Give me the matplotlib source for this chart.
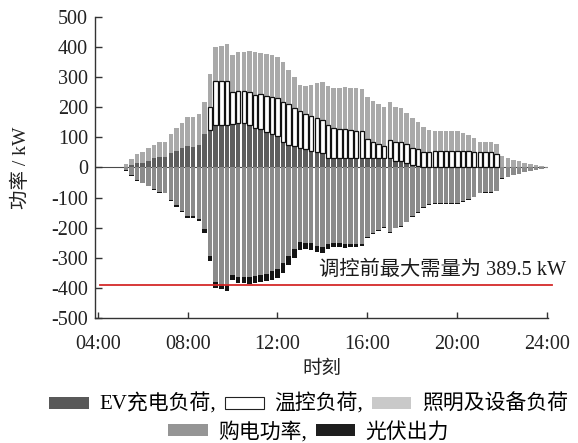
import numpy as np
import matplotlib
matplotlib.use("Agg")
import matplotlib.pyplot as plt
from matplotlib.patches import Patch

plt.rcParams["font.family"] = ["Liberation Serif", "Noto Sans CJK SC"]
plt.rcParams["axes.unicode_minus"] = False

# 15-minute slots from 04:00 to 24:00
slot_hours = 4 + 0.25 * np.arange(81)

# EV charging load (kW)
ev_load = [0, 0, 0, 0, 0, 3, 8, 14, 15, 21,
           30, 34, 34, 48, 56, 63, 70, 68, 75, 110,
           125, 140, 140, 140, 145, 147, 147, 142, 130, 127,
           118, 110, 103, 86, 76, 72, 66, 60, 56, 53,
           48, 33, 30, 30, 30, 30, 30, 30, 30, 30,
           30, 30, 30, 23, 21, 14, 8, 5, 0, 0,
           0, 0, 0, 0, 0, 0, 0, 0, 0, 0,
           0, 0, 0, 0, 0, 0, 0, 0, 0, 0, 0]

# Thermostatically controlled load (kW)
tcl_load = [0, 0, 0, 0, 0, 0, 0, 0, 0, 0,
            0, 0, 0, 0, 0, 0, 0, 0, 0, 0,
            75, 146, 146, 146, 105, 107, 106, 108, 111, 116,
            120, 124, 126, 132, 133, 125, 121, 118, 116, 110,
            109, 107, 100, 98, 96, 94, 92, 90, 66, 56,
            48, 40, 62, 63, 64, 63, 56, 57, 53, 52,
            56, 56, 56, 56, 56, 56, 56, 50, 50, 50,
            50, 45, 0, 0, 0, 0, 0, 0, 0, 0, 0]

# Lighting and equipment load (kW)
light_load = [0, 0, 0, 0, 0, 7, 19, 30, 38, 42,
              44, 49, 52, 64, 74, 86, 97, 100, 103, 108,
              110, 113, 118, 122, 124, 129, 131, 135, 141, 138,
              139, 139, 138, 132, 115, 102, 85, 93, 101, 118,
              125, 130, 134, 136, 140, 140, 140, 140, 138, 136,
              132, 130, 124, 116, 111, 105, 100, 88, 80, 72,
              65, 65, 65, 65, 65, 58, 51, 49, 36, 34,
              33, 34, 37, 32, 26, 21, 15, 12, 9, 5, 2]

# Purchased power (kW)
grid_power = [0, 0, 0, 0, 0, 8, 24, 41, 50, 60,
              71, 80, 83, 108, 126, 145, 162, 162, 170, 205,
              293, 381, 385, 388, 357, 362, 362, 363, 359, 358,
              352, 343, 337, 318, 294, 271, 247, 249, 249, 260,
              262, 255, 250, 251, 254, 253, 252, 252, 229, 218,
              206, 197, 213, 199, 194, 180, 162, 148, 131, 122,
              119, 119, 119, 119, 119, 112, 105, 97, 84, 82,
              81, 77, 36, 31, 25, 20, 14, 11, 8, 4, 1]

# PV output (kW)
pv_power = [0, 0, 0, 0, 0, 2, 3, 3, 3, 3,
            3, 3, 3, 4, 4, 4, 5, 6, 8, 13,
            17, 18, 19, 20, 17, 21, 22, 22, 23, 23,
            25, 30, 30, 32, 30, 28, 25, 22, 24, 21,
            20, 15, 14, 13, 12, 11, 10, 8, 5, 4,
            4, 3, 3, 3, 2, 2, 2, 2, 2, 2,
            2, 2, 2, 2, 2, 2, 2, 2, 2, 2,
            2, 2, 1, 1, 1, 1, 1, 1, 1, 1, 1]

peak_before = 389.5
x_ticks = [4, 8, 12, 16, 20, 24]
x_ticklabels = ["04:00", "08:00", "12:00", "16:00", "20:00", "24:00"]

c_ev = "#5e5e5e"
c_light = "#a9a9a9"
c_grid = "#8b8b8b"
c_pv = "#141414"

ev = np.array(ev_load, float)
tcl = np.array(tcl_load, float)
light = np.array(light_load, float)
grid = np.array(grid_power, float)
pv = np.array(pv_power, float)

fig = plt.figure(figsize=(5.78, 4.43), dpi=100)
ax = fig.add_axes([0.1644, 0.2815, 0.7842, 0.6808])

w = 0.2
ax.bar(slot_hours, ev, width=w, color=c_ev, linewidth=0, zorder=2)
ax.bar(slot_hours, tcl, width=w, bottom=ev, facecolor="white",
       edgecolor=np.where(tcl > 0, "#111111", "none").tolist(),
       linewidth=0.9, zorder=3)
ax.bar(slot_hours, light, width=w, bottom=ev + tcl, color=c_light,
       linewidth=0, zorder=2)
ax.bar(slot_hours, -grid, width=w, color=c_grid, linewidth=0, zorder=2)
ax.bar(slot_hours, -pv, width=w, bottom=-grid, color=c_pv, linewidth=0,
       zorder=2)

ax.axhline(0, color="#4a4a4a", linewidth=0.8, zorder=1)

ax.plot([4.1, 24.2], [-peak_before, -peak_before], color="#d42a2a",
        linewidth=1.3, clip_on=False, zorder=4)
ax.text(24.85, -peak_before + 17, "调控前最大需量为 389.5 kW",
        ha="right", va="bottom", fontsize=14.6, color="#1a1a1a")

ax.set_xlim(3.88, 24.05)
ax.set_ylim(-500, 500)
ax.set_yticks(np.arange(-500, 501, 100))
ax.set_xticks(x_ticks)
ax.set_xticklabels(x_ticklabels)

for s in ("top", "right"):
    ax.spines[s].set_visible(False)
for s in ("left", "bottom"):
    ax.spines[s].set_color("#333333")
    ax.spines[s].set_linewidth(1.0)

ax.tick_params(axis="y", direction="in", length=5, width=1.0,
               labelsize=14.5, pad=5, colors="#333333", labelcolor="#222222")
ax.tick_params(axis="x", direction="in", length=4, width=1.0,
               labelsize=14.5, pad=12, colors="#333333", labelcolor="#222222")

ax.set_xlabel("时刻", fontsize=14, labelpad=5, color="#222222")
ax.set_ylabel("功率 / kW", fontsize=14, labelpad=15, color="#222222")

row1 = [Patch(facecolor="#595959", edgecolor="none"),
        Patch(facecolor="white", edgecolor="#222222", linewidth=0.8),
        Patch(facecolor="#c9c9c9", edgecolor="none")]
row1_labels = ["EV充电负荷,", "温控负荷,", "照明及设备负荷"]
row2 = [Patch(facecolor="#959595", edgecolor="none"),
        Patch(facecolor="#1e1e1e", edgecolor="none")]
row2_labels = ["购电功率,", "光伏出力"]

leg_kw = dict(frameon=False, fontsize=15, handlelength=1.9,
              handleheight=0.5, handletextpad=0.5, columnspacing=0.4,
              borderpad=0, borderaxespad=0)
fig.legend(row1, row1_labels, loc="center", ncol=3,
           bbox_to_anchor=(0.534, 0.087), **leg_kw)
fig.legend(row2, row2_labels, loc="center", ncol=2,
           bbox_to_anchor=(0.534, 0.025), **leg_kw)

fig.savefig("out.png", dpi=100)
